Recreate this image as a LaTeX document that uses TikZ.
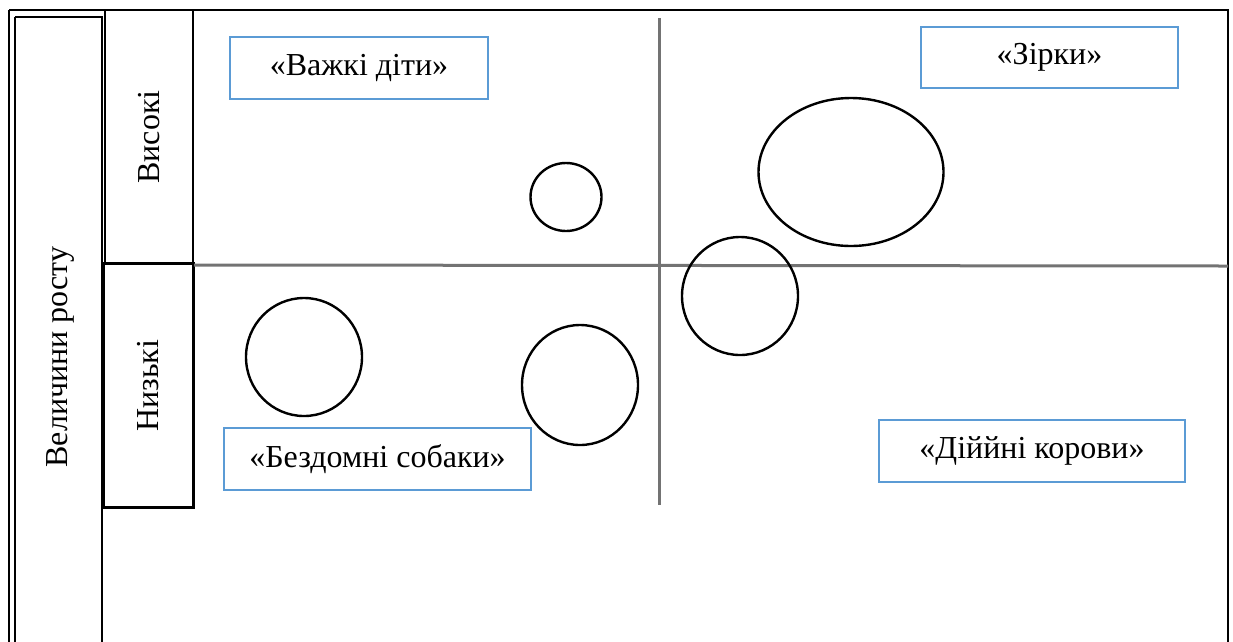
\documentclass[tikz,border=0pt]{standalone}
\usetikzlibrary{shapes.geometric}
\usepackage{fontspec}
\setmainfont{Liberation Serif}
\definecolor{boxblue}{HTML}{5B9BD5}
\begin{document}
\begin{tikzpicture}[x=1pt,y=-1pt,
  frame/.style={draw=black,line width=2.4pt},
  big/.style={font=\fontsize{32}{36}\selectfont},
  label/.style={draw=boxblue,line width=2pt,fill=white,inner sep=0pt,big},
  blob/.style={draw=black,line width=2.4pt},
  axis/.style={draw=black!55,line width=3pt}]
\useasboundingbox (0,0) rectangle (1233,641);
% outer frame
\draw[frame] (9,10) -- (1228,10) -- (1228,660);
\draw[frame] (9,10) -- (9,660);
% inner left box
\draw[frame] (15,17) -- (102,17) -- (102,660);
\draw[frame] (15,17) -- (15,660);
\node[rotate=90,big] (vel) at (60,357) {Величини росту};
% second column
\node[frame,minimum width=88pt,minimum height=254pt,inner sep=0pt] (vys) at (149,137) {};
\node[rotate=90,big] (vyst) at (vys.center) {Високі};
\node[frame,minimum width=90pt,minimum height=244pt,inner sep=0pt] (nyz) at (148.5,385.5) {};
\node[rotate=90,big] (nyzt) at (nyz.center) {Низькі};
% axes
\coordinate (hl) at (194,265);
\coordinate (hr) at (1228,266);
\coordinate (vt) at (659,18);
\coordinate (vb) at (659,505);
\draw[axis] (hl) -- (hr);
\draw[axis] (vt) -- (vb);
% circles
\node[blob,ellipse,minimum width=71pt,minimum height=68pt,inner sep=0pt] (c1) at (566,197) {};
\node[blob,ellipse,minimum width=185pt,minimum height=148pt,inner sep=0pt] (c2) at (851,172) {};
\node[blob,ellipse,minimum width=116pt,minimum height=118pt,inner sep=0pt] (c3) at (740,296) {};
\node[blob,ellipse,minimum width=116pt,minimum height=118pt,inner sep=0pt] (c4) at (304,357) {};
\node[blob,ellipse,minimum width=116pt,minimum height=120pt,inner sep=0pt] (c5) at (580,385) {};
% labels
\node[label,minimum width=258pt,minimum height=62pt] (hard) at (359,68) {«Важкі діти»};
\node[label,minimum width=257pt,minimum height=61pt] (stars) at (1049.5,57.5) {«Зірки»};
\node[label,minimum width=307pt,minimum height=62pt] (dogs) at (377.5,459) {«Бездомні собаки»};
\node[label,minimum width=306pt,minimum height=62pt] (cows) at (1032,451) {«Діййні корови»};
\end{tikzpicture}
\end{document}
